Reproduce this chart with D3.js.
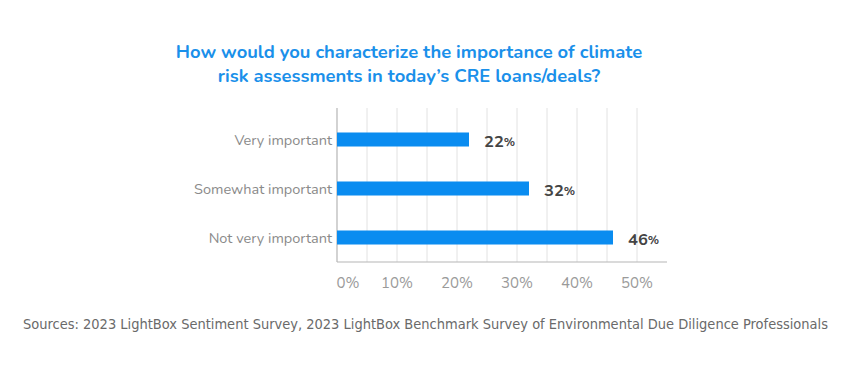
<!DOCTYPE html>
<html>
<head>
<meta charset="utf-8">
<script src="https://cdn.jsdelivr.net/npm/d3@7"></script>
<style>
  body { margin: 0; background: #fff; }
  svg { display: block; }
</style>
</head>
<body>
<div id="chart"></div>
<script>
// データ
const categories = ['Very important', 'Somewhat important', 'Not very important'];
const values = [22, 32, 46];
const tickValues = [0, 10, 20, 30, 40, 50];
const gridValues = [5, 10, 15, 20, 25, 30, 35, 40, 45, 50];
const titleLines = [
    'How would you characterize the importance of climate',
    'risk assessments in today\u2019s CRE loans/deals?'
];
const sourceText = 'Sources: 2023 LightBox Sentiment Survey, 2023 LightBox Benchmark Survey of Environmental Due Diligence Professionals';

const W = 850, H = 376;
const blue = '#0a8cf0';
const font = 'Nunito, Lato, "Open Sans", sans-serif';

const svg = d3.select('#chart').append('svg')
    .attr('width', W)
    .attr('height', H);

svg.append('rect').attr('width', W).attr('height', H).attr('fill', '#fff');

// タイトル（2行）
svg.append('g')
    .selectAll('text')
    .data(titleLines)
    .join('text')
    .attr('x', 409)
    .attr('y', (d, i) => 58 + i * 24)
    .attr('text-anchor', 'middle')
    .attr('fill', '#1a90ea')
    .style('font-family', font)
    .style('font-weight', 700)
    .style('font-size', '18.4px')
    .text(d => d);

// スケール
const xScale = d3.scaleLinear().domain([0, 55]).range([337, 667]);
const yScale = d3.scaleBand()
    .domain(categories)
    .range([115, 262])
    .paddingInner(0.714)
    .paddingOuter(0.357);

const gridTop = 108, axisY = 262;

// グリッド
svg.append('g')
    .selectAll('line')
    .data(gridValues)
    .join('line')
    .attr('x1', d => xScale(d))
    .attr('x2', d => xScale(d))
    .attr('y1', gridTop)
    .attr('y2', axisY)
    .attr('stroke', '#e2e2e2')
    .attr('stroke-width', 1);

// 縦軸
svg.append('line')
    .attr('x1', xScale(0)).attr('x2', xScale(0))
    .attr('y1', gridTop).attr('y2', axisY)
    .attr('stroke', '#b5b5b5')
    .attr('stroke-width', 1.2);

// 横軸
svg.append('line')
    .attr('x1', xScale(0)).attr('x2', xScale(55))
    .attr('y1', axisY).attr('y2', axisY)
    .attr('stroke', '#b5b5b5')
    .attr('stroke-width', 1.2);

// 棒
svg.append('g')
    .selectAll('rect')
    .data(values)
    .join('rect')
    .attr('x', xScale(0))
    .attr('y', (d, i) => yScale(categories[i]))
    .attr('width', d => xScale(d) - xScale(0))
    .attr('height', yScale.bandwidth())
    .attr('fill', blue);

// カテゴリラベル
svg.append('g')
    .selectAll('text')
    .data(categories)
    .join('text')
    .attr('x', 332)
    .attr('y', d => yScale(d) + yScale.bandwidth() / 2 + 5)
    .attr('text-anchor', 'end')
    .attr('fill', '#8a8a8a')
    .style('font-family', font)
    .style('font-size', '14.5px')
    .text(d => d);

// 値ラベル
const valueLabels = svg.append('g')
    .selectAll('text')
    .data(values)
    .join('text')
    .attr('x', d => xScale(d) + 15)
    .attr('y', (d, i) => yScale(categories[i]) + yScale.bandwidth() / 2 + 7)
    .attr('fill', '#444')
    .style('font-family', font)
    .style('font-weight', 700)
    .style('font-size', '16.5px');
valueLabels.append('tspan').text(d => d);
valueLabels.append('tspan').style('font-size', '12px').attr('dy', -1).text('%');

// 目盛りラベル
svg.append('g')
    .selectAll('text')
    .data(tickValues)
    .join('text')
    .attr('x', d => d === 0 ? xScale(d) + 11 : xScale(d))
    .attr('y', 288)
    .attr('text-anchor', 'middle')
    .attr('fill', '#9a9a9a')
    .style('font-family', font)
    .style('font-size', '15px')
    .text(d => d + '%');

// 出典
svg.append('text')
    .attr('x', 23)
    .attr('y', 329)
    .attr('fill', '#6a6a6a')
    .attr('textLength', 805)
    .attr('lengthAdjust', 'spacingAndGlyphs')
    .style('font-family', '"Liberation Sans Narrow", "DejaVu Sans Condensed", sans-serif')
    .style('font-size', '14px')
    .text(sourceText);
</script>
</body>
</html>
